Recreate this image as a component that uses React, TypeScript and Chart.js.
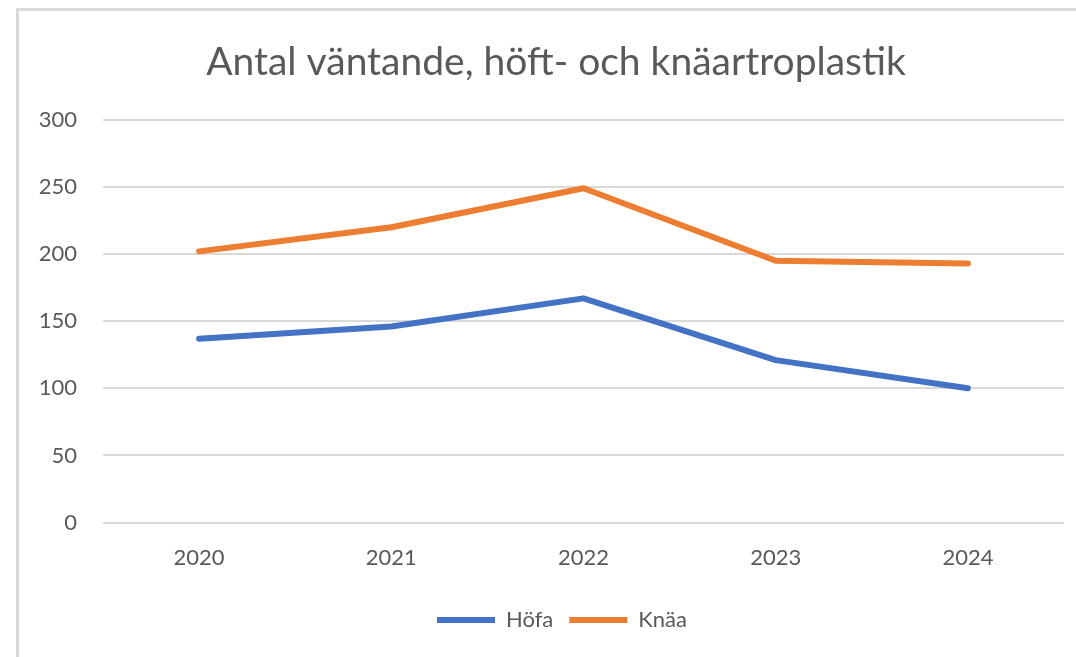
import React, { useEffect, useRef } from "react";
import { Chart, registerables } from "chart.js";

Chart.register(...registerables);

const title = "Antal väntande, höft- och knäartroplastik";
const years = ["2020", "2021", "2022", "2023", "2024"];
const hofa = [137, 146, 167, 121, 100];
const knaa = [202, 220, 249, 195, 193];
const seriesNames = ["Höfa", "Knäa"];
const yTicks = [0, 50, 100, 150, 200, 250, 300];

const FONT = "Lato, 'Liberation Sans', sans-serif";
const TEXT = "#595959";

const shiftPlugin = {
  id: "shiftBoxes",
  afterLayout(chart: any) {
    const l = chart.legend;
    if (l) {
      l.left += 21;
      l.right += 21;
    }
    const t = chart.titleBlock;
    if (t) {
      t.left += 15;
      t.right += 15;
    }
  },
};

export default function App() {
  const ref = useRef<HTMLCanvasElement | null>(null);
  useEffect(() => {
    document.body.style.margin = "0";
    const ctx = ref.current!;
    const chart = new Chart(ctx, {
      type: "line",
      data: {
        labels: years,
        datasets: [
          {
            label: seriesNames[0],
            data: hofa,
            borderColor: "#4472C4",
            backgroundColor: "#4472C4",
            borderWidth: 6,
            borderCapStyle: "round",
            borderJoinStyle: "round",
            pointRadius: 0,
            tension: 0,
          },
          {
            label: seriesNames[1],
            data: knaa,
            borderColor: "#ED7D31",
            backgroundColor: "#ED7D31",
            borderWidth: 6,
            borderCapStyle: "round",
            borderJoinStyle: "round",
            pointRadius: 0,
            tension: 0,
          },
        ],
      },
      plugins: [shiftPlugin],
      options: {
        animation: false,
        responsive: false,
        maintainAspectRatio: false,
        layout: { padding: { left: 18, right: 12, top: 0, bottom: 16 } },
        plugins: {
          title: {
            display: true,
            text: title,
            color: TEXT,
            font: { family: FONT, size: 39, weight: "normal" },
            padding: { top: 39, bottom: 34 },
          },
          legend: {
            position: "bottom",
            labels: {
              usePointStyle: true,
              pointStyle: "line",
              pointStyleWidth: 58,
              boxHeight: 22,
              padding: 16,
              color: TEXT,
              font: { family: FONT, size: 22 },
            },
          },
          tooltip: { enabled: false },
        },
        scales: {
          x: {
            offset: true,
            grid: { display: false, drawTicks: false },
            border: { display: false },
            ticks: {
              color: TEXT,
              font: { family: FONT, size: 22 },
              padding: 22,
            },
          },
          y: {
            min: 0,
            max: 300,
            afterFit: (s: any) => {
              s.width = 103 - 18;
            },
            afterBuildTicks: (s: any) => {
              s.ticks = yTicks.map((v) => ({ value: v }));
            },
            grid: { color: "#d9d9d9", lineWidth: 2, drawTicks: false },
            border: { display: false },
            ticks: {
              color: TEXT,
              font: { family: FONT, size: 22 },
              padding: 26,
            },
          },
        },
      },
    });
    return () => chart.destroy();
  }, []);
  return (
    <div style={{ position: "fixed", left: 0, top: 0, width: 1076, height: 657, background: "#fff" }}>
      <canvas ref={ref} width={1076} height={657} style={{ position: "absolute", left: 0, top: 0 }} />
      <div
        style={{
          position: "absolute",
          left: 16,
          top: 8,
          width: 1076,
          height: 657,
          borderTop: "3px solid #d9d9d9",
          borderLeft: "3px solid #d9d9d9",
          pointerEvents: "none",
        }}
      />
    </div>
  );
}
